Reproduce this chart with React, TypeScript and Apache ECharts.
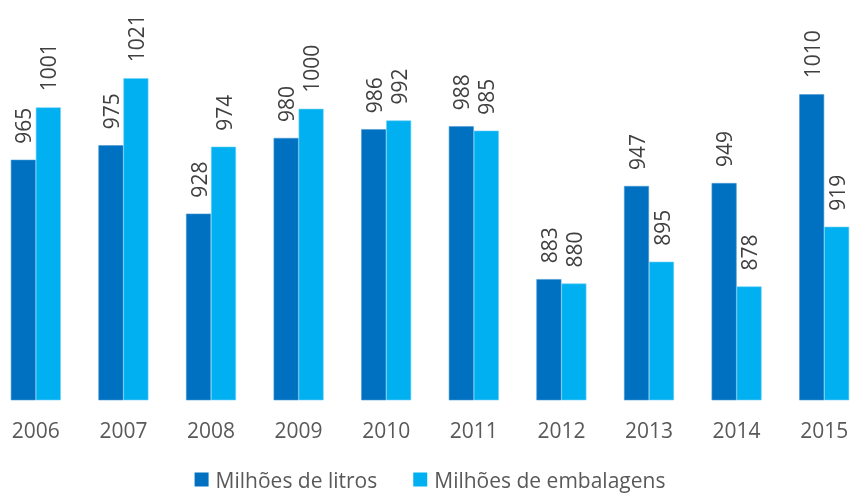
import React, { useEffect, useRef } from "react";
import * as echarts from "echarts";

const years = ["2006", "2007", "2008", "2009", "2010", "2011", "2012", "2013", "2014", "2015"];
const litros = [965, 975, 928, 980, 986, 988, 883, 947, 949, 1010];
const embalagens = [1001, 1021, 974, 1000, 992, 985, 880, 895, 878, 919];

const FONT = "'Open Sans', sans-serif";

export default function App() {
  const ref = useRef<HTMLDivElement>(null);
  useEffect(() => {
    if (!ref.current) return;
    const chart = echarts.init(ref.current, null, { renderer: "svg" });
    const label = {
      show: true,
      position: "top",
      rotate: 90,
      align: "left",
      verticalAlign: "middle",
      distance: 16,
      color: "#404040",
      fontSize: 21,
      fontFamily: FONT,
    };
    chart.setOption({
      animation: false,
      textStyle: { fontFamily: FONT },
      grid: { left: 0, right: 0, top: 36, bottom: 93, containLabel: false },
      legend: {
        top: 464,
        left: "center",
        itemWidth: 14,
        itemHeight: 14,
        itemGap: 36,
        icon: "rect",
        itemStyle: { borderWidth: 0 },
        textStyle: { color: "#595959", fontSize: 21, fontFamily: FONT, padding: [0, 0, 0, 2] },
        data: ["Milhões de litros", "Milhões de embalagens"],
      },
      xAxis: {
        type: "category",
        data: years,
        axisLine: { show: false },
        axisTick: { show: false },
        axisLabel: { color: "#595959", fontSize: 21, margin: 19, fontFamily: FONT },
      },
      yAxis: {
        type: "value",
        min: 800,
        max: 1050,
        show: false,
        splitLine: { show: false },
      },
      series: [
        {
          name: "Milhões de litros",
          type: "bar",
          data: litros,
          barWidth: 25,
          barGap: "0%",
          itemStyle: { color: "#0070C0", borderColor: "#4a9ad6", borderWidth: 0.6 },
          label,
        },
        {
          name: "Milhões de embalagens",
          type: "bar",
          data: embalagens,
          barWidth: 25,
          barGap: "0%",
          itemStyle: { color: "#00B0F0", borderColor: "#6fd2f7", borderWidth: 0.6 },
          label,
        },
      ],
    });
    return () => chart.dispose();
  }, []);
  return (
    <div style={{ position: "fixed", left: 0, top: 0, width: 850, height: 493, overflow: "hidden" }}>
      <div ref={ref} style={{ width: 876, height: 493, position: "absolute", left: -8, top: 0 }} />
    </div>
  );
}
